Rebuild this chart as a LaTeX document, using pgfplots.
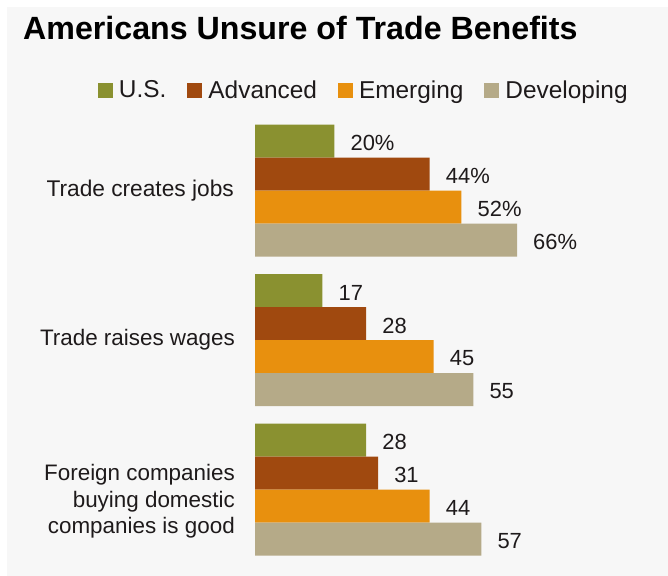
\documentclass[border=0pt]{standalone}
\usepackage{fontspec}
\setmainfont{Liberation Sans}
\usepackage{pgfplots}
\usepackage{pgfplotstable}
\pgfplotsset{compat=1.18}
\definecolor{cUS}{HTML}{8A9130}
\definecolor{cAdv}{HTML}{A0490F}
\definecolor{cEm}{HTML}{E8900E}
\definecolor{cDev}{HTML}{B5AA88}
\definecolor{bg}{HTML}{F7F7F7}
\definecolor{txt}{HTML}{1E1A1B}

% g = group (3 = top), v = value, l = label
\pgfplotstableread{
g v l
3 20 20\%
2 17 17
1 28 28
}\US
\pgfplotstableread{
g v l
3 44 44\%
2 28 28
1 31 31
}\Adv
\pgfplotstableread{
g v l
3 52 52\%
2 45 45
1 44 44
}\Em
\pgfplotstableread{
g v l
3 66 66\%
2 55 55
1 57 57
}\Dev

\begin{document}
\begin{tikzpicture}[x=1bp,y=1bp]
\fill[white] (0,0) rectangle (668,-576);
\fill[bg] (7,-7) rectangle (668,-576);
\node[anchor=base west, inner sep=0, text=black, font=\fontsize{32.3}{32.3}\selectfont\bfseries] at (23,-39.5) {Americans Unsure of Trade Benefits};
\begin{axis}[
  at={(255bp,-564.25bp)}, anchor=south west,
  scale only axis, width=397bp, height=448.5bp,
  xmin=0, xmax=100, ymin=0.5, ymax=3.5,
  xbar, bar width=33bp,
  axis line style={draw=none},
  xtick=\empty, ytick=\empty,
  clip=false,
  nodes near coords, point meta=explicit symbolic,
  every node near coord/.append style={anchor=west, inner sep=0pt, xshift=16bp, yshift=-2bp,
    text=txt, font=\fontsize{22}{22}\selectfont},
  legend columns=4,
  legend style={at={(axis description cs:-0.4484,1.0574)}, anchor=west,
    draw=none, fill=none, inner sep=0pt, outer sep=0pt,
    nodes={inner sep=0pt, text=txt, font=\fontsize{24.5}{24.5}\selectfont},
    /tikz/column sep=0pt},
  legend image code/.code={\path (-21bp,0) (21bp,0);\fill[#1,draw=none] (0,-7.5bp) rectangle (15bp,7.5bp);},
]
\addplot[fill=cUS, draw=none, bar shift=49.5bp] table[x=v, y=g, meta=l] {\US};
\addplot[fill=cAdv, draw=none, bar shift=16.5bp] table[x=v, y=g, meta=l] {\Adv};
\addplot[fill=cEm, draw=none, bar shift=-16.5bp] table[x=v, y=g, meta=l] {\Em};
\addplot[fill=cDev, draw=none, bar shift=-49.5bp] table[x=v, y=g, meta=l] {\Dev};
\legend{U.S., Advanced, Emerging, Developing}
\node[anchor=east, align=right, inner sep=0pt, xshift=-21bp, text=txt, font=\fontsize{22.8}{26}\selectfont] at (axis cs:0,3) {Trade creates jobs};
\node[anchor=east, align=right, inner sep=0pt, xshift=-20bp, text=txt, font=\fontsize{22.5}{26}\selectfont] at (axis cs:0,2) {Trade raises wages};
\node[anchor=east, align=right, inner sep=0pt, xshift=-20bp, yshift=-12bp, text=txt, font=\fontsize{22.5}{26.5}\selectfont] at (axis cs:0,1) {Foreign companies\\buying domestic\\companies is good};
\end{axis}
\end{tikzpicture}
\end{document}
